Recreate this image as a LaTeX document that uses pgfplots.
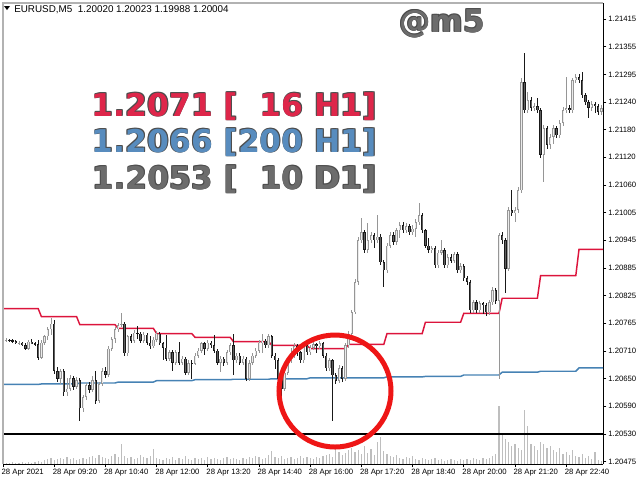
\documentclass[border=0pt]{standalone}
\usepackage{pgfplots}
\pgfplotsset{compat=1.18}
\usepackage{pgfplotstable}
\usepackage{fontspec}
\setmainfont{Liberation Sans}
\newfontfamily\dvs{DejaVu Sans}
\definecolor{maRed}{RGB}{220,20,60}
\definecolor{maBlue}{RGB}{70,130,180}
\definecolor{txRed}{RGB}{222,38,74}
\definecolor{txBlue}{RGB}{88,140,190}
\definecolor{txGray}{RGB}{108,108,108}
\definecolor{bull}{RGB}{150,150,150}
\definecolor{bullin}{RGB}{235,235,235}
\definecolor{bear}{RGB}{25,25,25}
\definecolor{bearin}{RGB}{95,95,95}
\definecolor{vol}{RGB}{190,190,190}
\definecolor{ring}{RGB}{238,22,22}

% EURUSD M5 bars, prices in points (0.00001) above 1.20000
\pgfplotstableread{
o h l c
732 737 729 734
734 736 730 732
732 735 726 731
731 733 724 726
726 732 722 728
728 730 720 722
722 728 712 715
715 733 712 730
730 735 724 726
726 730 720 724
724 733 690 696
696 733 692 728
728 745 722 741
741 760 734 756
756 781 745 768
768 775 662 668
668 675 645 650
650 672 640 668
668 672 615 622
622 652 615 630
630 660 625 652
652 656 628 634
634 655 630 648
648 652 562 588
588 616 580 612
612 642 606 638
638 645 620 628
628 656 622 648
648 668 598 604
604 645 600 640
640 673 636 668
668 676 652 660
660 720 655 715
715 740 710 735
735 762 728 756
756 770 750 765
765 790 760 768
768 772 700 705
705 745 700 741
741 746 726 732
732 754 728 749
749 764 736 747
747 750 728 732
732 750 728 745
745 749 722 728
728 741 715 720
720 739 716 734
734 752 730 747
747 750 722 726
726 730 690 717
717 743 688 694
694 712 688 707
707 712 668 685
685 712 680 707
707 730 680 685
685 700 680 694
694 698 660 664
664 690 660 685
685 690 651 683
683 705 680 700
700 716 695 711
711 730 706 726
726 730 702 715
715 733 710 728
728 732 716 722
722 743 706 711
711 715 680 685
685 700 666 694
694 698 678 685
685 712 680 707
707 728 702 722
722 747 658 690
690 706 685 700
700 705 680 685
685 700 680 694
694 698 647 651
651 690 646 685
685 705 680 700
700 716 695 711
711 733 706 728
728 747 706 732
732 736 716 722
722 747 716 741
741 745 696 700
700 705 672 690
690 695 645 651
651 656 611 630
630 670 626 664
664 695 660 690
690 716 685 700
700 726 695 720
720 724 700 707
707 711 685 690
690 728 685 722
722 726 702 707
707 722 702 717
717 730 712 724
724 728 706 720
720 732 715 726
726 730 695 700
700 705 668 673
673 696 668 690
690 694 562 658
658 664 640 647
647 680 642 673
673 678 645 651
651 728 647 722
722 752 716 747
747 798 742 792
792 862 788 856
856 952 850 945
945 992 940 962
962 968 918 924
924 981 918 945
945 962 940 956
956 960 928 945
945 998 940 953
953 958 892 898
898 904 845 881
881 940 876 934
934 962 928 956
956 962 936 941
941 972 936 966
966 983 950 977
977 983 960 966
966 981 960 975
975 980 956 962
962 977 956 970
970 990 953 983
983 1024 978 998
998 1003 960 966
966 970 928 934
934 950 918 924
924 934 919 928
928 932 886 892
892 925 886 919
919 945 914 924
924 928 886 892
892 915 886 909
909 915 896 902
902 920 896 915
915 920 876 881
881 896 876 890
890 895 858 864
864 870 850 856
856 860 790 796
796 818 790 813
813 818 790 796
796 817 790 811
811 815 788 807
807 812 784 792
792 818 786 813
813 845 808 839
839 843 810 817
817 960 651 956
956 962 938 945
945 950 834 885
885 1015 880 1009
1009 1051 996 1002
1002 1015 983 1009
1009 1058 1003 1051
1051 1290 1045 1281
1281 1343 1215 1221
1221 1260 1215 1243
1243 1250 1220 1226
1226 1236 1220 1230
1230 1247 1215 1221
1221 1226 1120 1126
1126 1190 1068 1183
1183 1188 1140 1147
1147 1170 1140 1164
1164 1190 1150 1183
1183 1188 1162 1168
1168 1200 1162 1194
1194 1228 1188 1221
1221 1292 1215 1226
1226 1232 1215 1221
1221 1290 1215 1285
1285 1298 1280 1292
1292 1298 1280 1285
1285 1302 1247 1253
1253 1258 1232 1238
1238 1243 1204 1226
1226 1240 1220 1234
1234 1238 1215 1230
1230 1235 1211 1217
1217 1232 1212 1226
}\candles

% tick volumes (relative)
\pgfplotstableread{
v
1
1
2
1
1
2
1
2
1
2
3
2
4
5
6
4
5
6
5
7
5
6
4
5
6
5
7
8
6
9
7
6
5
8
10
7
20
8
6
7
5
6
9
7
6
8
15
6
5
4
6
5
7
4
6
5
8
5
4
6
5
6
4
7
5
6
5
4
6
7
5
6
5
4
6
5
7
6
8
7
5
6
9
13
7
6
8
5
6
7
5
6
8
6
7
6
5
7
6
8
9
10
7
18
12
9
11
14
16
12
14
10
18
11
15
9
22
27
13
10
8
7
9
6
5
7
6
8
5
4
6
5
4
5
6
4
5
3
4
5
4
3
5
4
5
4
6
5
4
6
5
6
8
10
58
30
25
22
18
20
16
14
54
38
20
18
14
22
20
16
18
14
12
16
10
12
9
14
8
7
10
6
8
5
12
4
3
}\volumes

\newcommand\bigtxt{\dvs\bfseries\fontsize{23.5}{28}\selectfont}
\newcommand\halo[4]{% x y colour text
  \foreach \dx/\dy in {0.5/0.5,-0.5/0.5,0.5/-0.5,-0.5/-0.5}{%
    \node[anchor=base east, inner sep=0pt, text=black!70, xshift=\dx pt, yshift=\dy pt] at (#1,#2) {\bigtxt #4};}
  \node[anchor=base east, inner sep=0pt, text=#3] at (#1,#2) {\bigtxt #4};}

\pgfplotsset{
  candle/.style 2 args={draw=none, mark=none, forget plot,
    error bars/.cd, y dir=both, y explicit, error mark=none,
    error bar style={draw=#1, line width=#2, line cap=butt}, /pgfplots/.cd},
  bullbar/.style={restrict expr to domain={\thisrow{c}-\thisrow{o}}{-0.1:100000}},
  bearbar/.style={restrict expr to domain={\thisrow{c}-\thisrow{o}}{-100000:-0.1}},
}

\begin{document}
\begin{tikzpicture}
\begin{axis}[name=volax, scale only axis, width=450pt, height=345.75pt,
  xmin=0, xmax=187.5, ymin=0, ymax=461, hide axis]
\addplot[ycomb, draw=vol, line width=0.85pt, mark=none] table[x expr=\coordindex+1, y=v] \volumes;
\end{axis}
\begin{axis}[name=main, scale only axis, width=450pt, height=345.75pt,
  xmin=0, xmax=187.5, ymin=470, ymax=1449,
  axis x line*=bottom, axis y line*=right,
  axis line style={black, line width=0.75pt},
  tick align=outside, major tick length=2.6pt,
  tick style={black, line width=0.6pt},
  xtick={0,16,32,48,64,80,96,112,128,144,160,176},
  xticklabels={28 Apr 2021,28 Apr 09:20,28 Apr 10:40,28 Apr 12:00,28 Apr 13:20,28 Apr 14:40,28 Apr 16:00,28 Apr 17:20,28 Apr 18:40,28 Apr 20:00,28 Apr 21:20,28 Apr 22:40},
  ytick={475,533.75,592.5,651.25,710,768.75,827.5,886.25,945,1003.75,1062.5,1121.25,1180,1238.75,1297.5,1356.25,1415},
  yticklabels={1.20475,1.20530,1.20590,1.20650,1.20710,1.20765,1.20825,1.20885,1.20945,1.21005,1.21060,1.21120,1.21180,1.21240,1.21295,1.21355,1.21415},
  xticklabel style={anchor=north west, font=\fontsize{5.8}{6}\selectfont, inner sep=0pt, xshift=-1.2pt, yshift=-1.2pt},
  yticklabel style={anchor=west, font=\fontsize{5.8}{6}\selectfont, inner sep=0pt, xshift=1.2pt},
]
% black level 1.2053 (D1)
\addplot[black, line width=1.3pt] coordinates {(0,533)(187.5,533)};
% 200 H1 MA (blue)
\addplot[maBlue, line width=1.1pt] coordinates {(0,639)(11,639)(12,640)(23,640)(24,642)(35,642)(36,644)(47,644)(48,647)(59,647)(60,649)(71,649)(72,650)(83,650)(84,651)(95,651)(96,653)(119,653)(120,655)(131,655)(132,656)(143,656)(144,659)(155,659)(156,665)(167,665)(168,667)(179,667)(180,674)(187.5,674)};
% 16 H1 MA (red)
\addplot[maRed, line width=1.1pt] coordinates {(0,800)(11,800)(12,783)(23,783)(24,766)(35,766)(36,758)(47,758)(48,747)(59,747)(60,739)(71,739)(72,730)(83,730)(84,722)(95,722)(96,715)(107,715)(108,724)(119,724)(120,747)(131,747)(132,771)(143,771)(144,790)(155,790)(156,822)(167,822)(168,870)(179,870)(180,926)(187.5,926)};
% wicks
\addplot[bullbar, candle={bull}{0.6pt}]
  table[x expr=\coordindex+1, y expr={(\thisrow{h}+\thisrow{l})/2}, y error plus expr={(\thisrow{h}-\thisrow{l})/2}, y error minus expr={(\thisrow{h}-\thisrow{l})/2}] \candles;
\addplot[bearbar, candle={bear}{0.6pt}]
  table[x expr=\coordindex+1, y expr={(\thisrow{h}+\thisrow{l})/2}, y error plus expr={(\thisrow{h}-\thisrow{l})/2}, y error minus expr={(\thisrow{h}-\thisrow{l})/2}] \candles;
% bodies (outline)
\addplot[bullbar, candle={bull}{1.9pt}]
  table[x expr=\coordindex+1, y expr={(\thisrow{o}+\thisrow{c})/2}, y error plus expr={max(abs(\thisrow{c}-\thisrow{o})/2,1)}, y error minus expr={max(abs(\thisrow{c}-\thisrow{o})/2,1)}] \candles;
\addplot[bearbar, candle={bear}{1.9pt}]
  table[x expr=\coordindex+1, y expr={(\thisrow{o}+\thisrow{c})/2}, y error plus expr={max(abs(\thisrow{c}-\thisrow{o})/2,1)}, y error minus expr={max(abs(\thisrow{c}-\thisrow{o})/2,1)}] \candles;
% bodies (fill)
\addplot[bullbar, candle={bullin}{0.75pt}]
  table[x expr=\coordindex+1, y expr={(\thisrow{o}+\thisrow{c})/2}, y error plus expr={max(abs(\thisrow{c}-\thisrow{o})/2-1.6,0)}, y error minus expr={max(abs(\thisrow{c}-\thisrow{o})/2-1.6,0)}] \candles;
\addplot[bearbar, candle={bearin}{0.75pt}]
  table[x expr=\coordindex+1, y expr={(\thisrow{o}+\thisrow{c})/2}, y error plus expr={max(abs(\thisrow{c}-\thisrow{o})/2-1.6,0)}, y error minus expr={max(abs(\thisrow{c}-\thisrow{o})/2-1.6,0)}] \candles;
% highlight ring
\draw[ring, line width=3.75pt] (axis cs:103.75,625) circle[radius=42pt];
\end{axis}
\path (main.south west) ++(-2.25pt,-12pt) coordinate (bbA);
\begin{scope}[shift={(main.south west)}, xshift=-2.25pt, yshift=348pt, x=0.75pt, y=-0.75pt]
\draw[gray!60, line width=1.2pt] (3,464) -- (3,3) -- (603,3);
\fill (4,6) -- (10,6) -- (7,10) -- cycle;
\node[anchor=base west, inner sep=0pt, font=\fontsize{7.4}{8}\selectfont] at (14,12) {EURUSD,M5\ \ 1.20020 1.20023 1.19988 1.20004};
\halo{377}{116}{txRed}{1.2071 [\phantom{0}16 H1]}
\halo{377}{152}{txBlue}{1.2066 [200 H1]}
\halo{377}{189}{txGray}{1.2053 [\phantom{0}10 D1]}
\foreach \dx/\dy in {0.5/0.5,-0.5/0.5,0.5/-0.5,-0.5/-0.5}{%
  \node[anchor=base, inner sep=0pt, text=black!70, xshift=\dx pt, yshift=\dy pt] at (442,32) {\bigtxt @m5};}
\node[anchor=base, inner sep=0pt, text=txGray] at (442,32) {\bigtxt @m5};
\end{scope}
\pgfresetboundingbox
\useasboundingbox (bbA) rectangle ++(480pt,360pt);
\end{tikzpicture}
\end{document}
